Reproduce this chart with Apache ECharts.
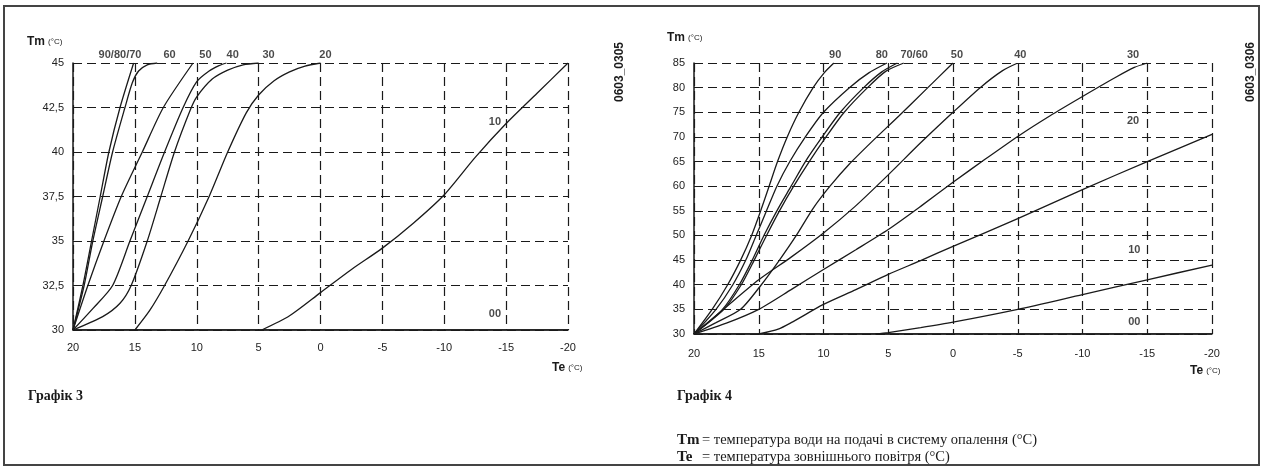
<!DOCTYPE html>
<html>
<head>
<meta charset="utf-8">
<script src="https://cdn.jsdelivr.net/npm/echarts@6/dist/echarts.min.js"></script>
<style>
  html, body { margin: 0; padding: 0; background: #fff; }
  #chart { width: 1263px; height: 468px; }
</style>
</head>
<body>
<div id="chart"></div>
<script>
// ---- Графік 3 (Tm 30..45) : points are [Te, Tm]
const g3_90_80_70 = [[20,30],[19.2,32.5],[18.5,35],[17.8,37.5],[17.1,40],[16.2,42.5],[15.1,45]];
const g3_60 = [[20,30],[19.1,32.5],[18.4,35],[17.6,37.5],[16.8,40],[15.8,42.5],[15.2,43.9],[14.7,44.55],[14.0,44.9],[13.2,45]];
const g3_50 = [[20,30],[18.8,32.5],[17.5,35],[16.1,37.5],[14.4,40],[12.7,42.5],[10.3,45]];
const g3_40 = [[20,30],[18.4,31.2],[16.8,32.5],[15.4,35],[14.0,37.5],[12.6,40],[11.1,42.5],[10.0,43.95],[9.0,44.55],[8.2,44.85],[7.6,45]];
const g3_30 = [[20,30],[17.6,30.75],[16.2,31.5],[15.3,32.5],[14.0,35],[12.9,37.5],[11.8,40],[10.5,42.4],[10.0,43.1],[8.75,44.1],[7.5,44.6],[6.25,44.9],[5.0,45]];
const g3_20 = [[15,30],[13.8,31.1],[12.6,32.5],[10.7,35],[9.0,37.5],[7.5,40],[6.0,42.2],[5.0,43.2],[3.75,44.0],[2.5,44.5],[1.25,44.82],[0,45]];
const g3_10 = [[4.75,30],[2.5,30.8],[0,32.1],[-2.5,33.4],[-5,34.6],[-7.5,36.0],[-10,37.6],[-12.5,39.7],[-15,41.6],[-17.5,43.3],[-20,45]];
const g3_00 = [[20,30],[-20,30]];

const g3Names = ['90/80/70', '60', '50', '40', '30', '20', '10', '00'];
const g3LabelPos = [[16.2,45],[12.2,45],[9.3,45],[7.1,45],[4.2,45],[-0.4,45],[-14.1,41.7],[-14.1,30.9]];

// ---- Графік 4 (Tm 30..85)
const g4_90 = [[20,30],[18.6,35],[17.4,40],[16.4,45],[15.55,50],[14.85,55],[14.2,60],[13.55,65],[12.8,70],[11.9,75],[10.8,80],[9.95,83],[9.2,85]];
const g4_80 = [[20,30],[18.3,35],[17.0,40],[16.0,45],[15.2,50],[14.4,55],[13.6,60],[12.6,65],[11.4,70],[10.0,75],[8.0,80],[6.5,83],[5.1,85]];
const g4_70 = [[20,30],[17.8,35],[16.5,40],[15.5,45],[14.6,50],[13.6,55],[12.5,60],[11.4,65],[10.1,70],[8.7,75],[6.9,80],[5.5,83.2],[4.3,85]];
const g4_60 = [[20,30],[17.7,35],[16.35,40],[15.35,45],[14.4,50],[13.4,55],[12.3,60],[11.1,65],[9.8,70],[8.4,75],[6.6,80],[5.2,83.3],[3.8,85]];
const g4_50 = [[20,30],[18.3,32.3],[16.4,35],[14.8,40],[13.4,45],[12.1,50],[10.8,55.5],[9.5,60],[8.0,64.5],[6.2,69.2],[4.2,74.2],[2.1,79.6],[0,85]];
const g4_40 = [[20,30],[17.6,35.3],[15,41],[12.5,45.6],[10,50.5],[7.6,55.8],[5,62.3],[2.5,68.8],[0,75],[-2.1,80],[-3.8,83.4],[-5,85]];
const g4_30 = [[20,30],[17.5,32.2],[15,35],[12.5,39],[10,43.1],[7.5,47.1],[5,51.2],[2.5,55.9],[0,60.8],[-2.5,65.5],[-5,70.1],[-7.5,74.3],[-10,78.2],[-12.5,82],[-14,84.1],[-15,85]];
const g4_20 = [[15,30],[13.5,31],[12.5,32.3],[10,36],[7.5,39],[5,42.1],[2.5,44.9],[0,47.8],[-5,53.4],[-10,59.3],[-15,65],[-20,70.5]];
const g4_10 = [[6,30],[5,30.3],[2.5,31.3],[0,32.4],[-5,35],[-10,38],[-15,41],[-20,44]];
const g4_00 = [[20,30],[-20,30]];

const g4Names = ['90', '80', '70/60', '50', '40', '30', '20', '10', '00'];
const g4LabelPos = [[9.1,85],[5.5,85],[3.0,85],[-0.3,85],[-5.2,85],[-13.9,85],[-13.9,73.2],[-14,47.1],[-14,32.4]];

const SANS = '"Liberation Sans", Arial, sans-serif';
const SERIF = '"Liberation Serif", "DejaVu Serif", serif';
const INK = '#1a1a1a';

const chart = echarts.init(document.getElementById('chart'));

function curve(data, idx) {
  return {
    type: 'line', data: data, xAxisIndex: idx, yAxisIndex: idx,
    smooth: 0.25, showSymbol: false, symbol: 'none', silent: true,
    lineStyle: { color: INK, width: 1.3 }
  };
}

function labels(names, pos, idx) {
  const top = idx === 0 ? 45 : 85;
  return {
    type: 'scatter', xAxisIndex: idx, yAxisIndex: idx, symbolSize: 0, clip: false, silent: true,
    data: names.map((n, i) => ({
      value: pos[i], name: n,
      label: { position: pos[i][1] === top ? 'top' : 'inside', distance: 3 }
    })),
    label: {
      show: true, formatter: p => p.name, color: INK,
      fontFamily: SANS, fontSize: 11, fontWeight: 'bold'
    }
  };
}

function xAx(idx) {
  return {
    type: 'value', gridIndex: idx, inverse: true, min: -20, max: 20, interval: 5,
    axisLine: { show: true, onZero: false, lineStyle: { color: INK, width: 1.5 } },
    axisTick: { show: false },
    axisLabel: { color: '#222', fontFamily: SANS, fontSize: 11, margin: idx === 0 ? 12 : 14 },
    splitLine: { show: true, lineStyle: { color: INK, width: 1.2, type: [9, 5] } }
  };
}

function yAx(idx, min, max, step) {
  return {
    type: 'value', gridIndex: idx, min: min, max: max, interval: step,
    axisLine: { show: true, onZero: false, lineStyle: { color: INK, width: 1.5 } },
    axisTick: { show: false },
    axisLabel: {
      color: '#222', fontFamily: SANS, fontSize: 11, margin: 9,
      formatter: v => String(v).replace('.', ',')
    },
    splitLine: { show: true, lineStyle: { color: INK, width: 1.2, type: [9, 5] } }
  };
}

const g3Series = [g3_90_80_70, g3_60, g3_50, g3_40, g3_30, g3_20, g3_10, g3_00].map(d => curve(d, 0));
const g4Series = [g4_90, g4_80, g4_70, g4_60, g4_50, g4_40, g4_30, g4_20, g4_10, g4_00].map(d => curve(d, 1));

function txt(x, y, text, style, extra) {
  return Object.assign({
    type: 'text', x: x, y: y, silent: true,
    style: Object.assign({ text: text, fill: INK, fontFamily: SANS, fontSize: 11, verticalAlign: 'middle' }, style)
  }, extra || {});
}

const unitRich = {
  a: { fontFamily: SANS, fontSize: 12, fontWeight: 'bold', fill: INK },
  b: { fontFamily: SANS, fontSize: 8, fill: INK }
};

const option = {
  backgroundColor: '#fff',
  animation: false,
  grid: [
    { left: 73, top: 63, width: 495, height: 267 },
    { left: 694, top: 63, width: 518, height: 271 }
  ],
  xAxis: [xAx(0), xAx(1)],
  yAxis: [yAx(0, 30, 45, 2.5), yAx(1, 30, 85, 5)],
  series: [].concat(g3Series, g4Series, [labels(g3Names, g3LabelPos, 0), labels(g4Names, g4LabelPos, 1)]),
  graphic: [
    { type: 'rect', silent: true, shape: { x: 4, y: 6, width: 1255, height: 459 },
      style: { fill: 'none', stroke: '#444', lineWidth: 2 } },
    txt(27, 42, '{a|Tm} {b|(°C)}', { rich: unitRich }),
    txt(667, 38, '{a|Tm} {b|(°C)}', { rich: unitRich }),
    txt(552, 368, '{a|Te} {b|(°C)}', { rich: unitRich }),
    txt(1190, 371, '{a|Te} {b|(°C)}', { rich: unitRich }),
    txt(620, 72, '0603_0305', { fontSize: 12, fontWeight: 'bold', align: 'center' }, { rotation: Math.PI / 2 }),
    txt(1251, 72, '0603_0306', { fontSize: 12, fontWeight: 'bold', align: 'center' }, { rotation: Math.PI / 2 }),
    txt(28, 396, 'Графік 3', { fontFamily: SERIF, fontSize: 14, fontWeight: 'bold' }),
    txt(677, 396, 'Графік 4', { fontFamily: SERIF, fontSize: 14, fontWeight: 'bold' }),
    txt(677, 440, 'Tm', { fontFamily: SERIF, fontSize: 15, fontWeight: 'bold' }),
    txt(702, 440, '= температура води на подачі в систему опалення (°C)', { fontFamily: SERIF, fontSize: 14.5 }),
    txt(677, 457, 'Te', { fontFamily: SERIF, fontSize: 15, fontWeight: 'bold' }),
    txt(702, 457, '= температура зовнішнього повітря (°C)', { fontFamily: SERIF, fontSize: 14.5 })
  ]
};

chart.setOption(option);
window.addEventListener('resize', () => chart.resize());
</script>
</body>
</html>
